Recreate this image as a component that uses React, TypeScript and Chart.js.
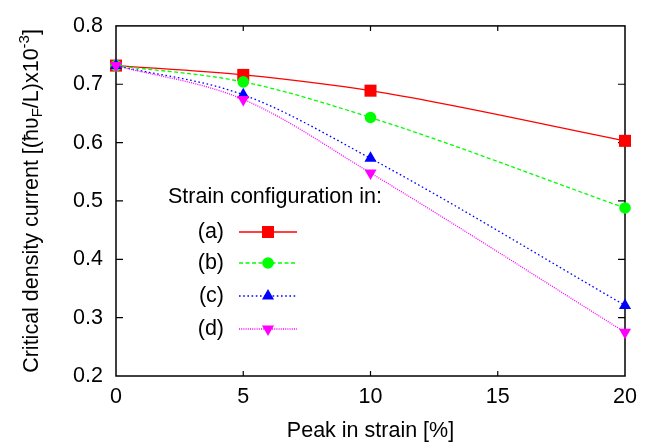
import React, { useEffect, useRef } from "react";
import { Chart, registerables } from "chart.js";

Chart.register(...registerables);

const strainX = [0, 5, 10, 20];
const seriesA = [0.732, 0.716, 0.689, 0.603];
const seriesB = [0.732, 0.704, 0.643, 0.488];
const seriesC = [0.732, 0.682, 0.573, 0.321];
const seriesD = [0.732, 0.674, 0.548, 0.275];
const legendLabels = ["(a)", "(b)", "(c)", "(d)"];
const legendTitle = "Strain configuration in:";
const xTitle = "Peak in strain [%]";

const FONT = "'Liberation Sans', Arial, sans-serif";
const FS = 21.5;

const styles = [
  { color: "#ff0000", dash: [] as number[], point: "rect", radius: 8.5, rotation: 0 },
  { color: "#00ff00", dash: [4, 2.5], point: "circle", radius: 5.8, rotation: 0 },
  { color: "#0000ff", dash: [1.6, 2.6], point: "triangle", radius: 7, rotation: 0 },
  { color: "#ff00ff", dash: [1, 1.2], point: "triangle", radius: 7, rotation: 180 },
];

function drawMarker(ctx: CanvasRenderingContext2D, kind: string, x: number, y: number, r: number, rot: number, color: string) {
  ctx.save();
  ctx.fillStyle = color;
  ctx.beginPath();
  if (kind === "rect") {
    const s = Math.SQRT1_2 * r;
    ctx.rect(x - s, y - s, 2 * s, 2 * s);
  } else if (kind === "circle") {
    ctx.arc(x, y, r, 0, Math.PI * 2);
  } else {
    let a = (rot * Math.PI) / 180;
    ctx.moveTo(x + Math.sin(a) * r, y - Math.cos(a) * r);
    a += (2 * Math.PI) / 3;
    ctx.lineTo(x + Math.sin(a) * r, y - Math.cos(a) * r);
    a += (2 * Math.PI) / 3;
    ctx.lineTo(x + Math.sin(a) * r, y - Math.cos(a) * r);
    ctx.closePath();
  }
  ctx.fill();
  ctx.restore();
}

const framePlugin = {
  id: "frame",
  beforeDatasetsDraw(chart: any) {
    const { ctx, chartArea } = chart;
    const { left, right, top, bottom } = chartArea;
    const xs = chart.scales.x;
    const ys = chart.scales.y;
    ctx.save();
    ctx.strokeStyle = "#000";
    ctx.lineWidth = 1.5;
    ctx.strokeRect(left, top, right - left, bottom - top);
    ctx.lineWidth = 1.2;
    ctx.beginPath();
    xs.ticks.forEach((t: any) => {
      const px = xs.getPixelForValue(t.value);
      if (Math.abs(px - left) < 1 || Math.abs(px - right) < 1) return;
      ctx.moveTo(px, bottom);
      ctx.lineTo(px, bottom - 5);
      ctx.moveTo(px, top);
      ctx.lineTo(px, top + 5);
    });
    ys.ticks.forEach((t: any) => {
      const py = ys.getPixelForValue(t.value);
      if (Math.abs(py - top) < 1 || Math.abs(py - bottom) < 1) return;
      ctx.moveTo(left, py);
      ctx.lineTo(left + 7, py);
      ctx.moveTo(right, py);
      ctx.lineTo(right - 7, py);
    });
    ctx.stroke();
    ctx.restore();
  },
  afterDraw(chart: any) {
    const { ctx, chartArea } = chart;
    ctx.save();
    ctx.fillStyle = "#000";
    // x title
    ctx.font = `${FS}px ${FONT}`;
    ctx.textAlign = "center";
    ctx.textBaseline = "alphabetic";
    ctx.fillText(xTitle, (chartArea.left + chartArea.right) / 2, 437);

    // y title with sub/superscripts, rotated
    const big = `${FS}px ${FONT}`;
    const small = `${Math.round(FS * 0.68)}px ${FONT}`;
    const parts = [
      { t: "Critical density current [(\u0127\u028b", f: big, dy: 0 },
      { t: "F", f: small, dy: 4 },
      { t: "/L)x10", f: big, dy: 0 },
      { t: "-3", f: small, dy: -9 },
      { t: "]", f: big, dy: 0 },
    ];
    let total = 0;
    parts.forEach((p) => {
      ctx.font = p.f;
      total += ctx.measureText(p.t).width;
    });
    const cy = (chartArea.top + chartArea.bottom) / 2;
    ctx.translate(38, cy);
    ctx.rotate(-Math.PI / 2);
    ctx.textAlign = "left";
    ctx.textBaseline = "alphabetic";
    let x = -total / 2;
    parts.forEach((p) => {
      ctx.font = p.f;
      ctx.fillText(p.t, x, p.dy);
      x += ctx.measureText(p.t).width;
    });
    ctx.restore();

    // legend
    ctx.save();
    ctx.fillStyle = "#000";
    ctx.font = `${FS}px ${FONT}`;
    ctx.textBaseline = "middle";
    ctx.textAlign = "left";
    ctx.fillText(legendTitle, 168, 197);
    const rows = [232, 263, 296, 329];
    legendLabels.forEach((lab, i) => {
      const y = rows[i];
      const st = styles[i];
      ctx.fillStyle = "#000";
      ctx.textAlign = "right";
      ctx.fillText(lab, 224, y);
      ctx.strokeStyle = st.color;
      ctx.lineWidth = 1.3;
      ctx.setLineDash(st.dash);
      ctx.beginPath();
      ctx.moveTo(239, y);
      ctx.lineTo(297, y);
      ctx.stroke();
      ctx.setLineDash([]);
      drawMarker(ctx, st.point, 268, y, st.radius, st.rotation, st.color);
    });
    ctx.restore();
  },
};

export default function App() {
  const ref = useRef<HTMLCanvasElement | null>(null);
  useEffect(() => {
    if (!ref.current) return;
    const all = [seriesA, seriesB, seriesC, seriesD];
    const chart = new Chart(ref.current, {
      type: "line",
      data: {
        datasets: all.map((vals, i) => ({
          label: legendLabels[i],
          data: strainX.map((x, j) => ({ x, y: vals[j] })),
          borderColor: styles[i].color,
          backgroundColor: styles[i].color,
          borderWidth: 1.3,
          borderDash: styles[i].dash,
          pointStyle: styles[i].point as any,
          pointRadius: styles[i].radius,
          pointRotation: styles[i].rotation,
          pointBorderWidth: 0,
          pointBackgroundColor: styles[i].color,
          cubicInterpolationMode: "monotone" as const,
          fill: false,
          clip: false as any,
          order: 3 - i,
        })),
      },
      options: {
        responsive: false,
        animation: false,
        layout: { padding: { top: 16, right: 25, left: 0, bottom: 0 } },
        plugins: { legend: { display: false }, tooltip: { enabled: false } },
        scales: {
          x: {
            type: "linear",
            min: 0,
            max: 20,
            ticks: {
              stepSize: 5,
              color: "#000",
              font: { family: FONT, size: FS },
              padding: 8,
              maxRotation: 0,
            },
            grid: { display: false, drawTicks: false },
            border: { display: false },
            afterFit: (s: any) => {
              s.height = 68;
            },
          },
          y: {
            type: "linear",
            min: 0.2,
            max: 0.8,
            ticks: {
              stepSize: 0.1,
              color: "#000",
              font: { family: FONT, size: FS },
              padding: 13,
              callback: (v: any) => Number(v).toFixed(1),
            },
            grid: { display: false, drawTicks: false },
            border: { display: false },
            afterFit: (s: any) => {
              s.width = 116;
            },
          },
        },
      },
      plugins: [framePlugin],
    });
    return () => chart.destroy();
  }, []);
  return (
    <div style={{ position: "absolute", left: 0, top: 0, width: 650, height: 444, background: "#fff" }}>
      <canvas ref={ref} width={650} height={444} />
    </div>
  );
}
